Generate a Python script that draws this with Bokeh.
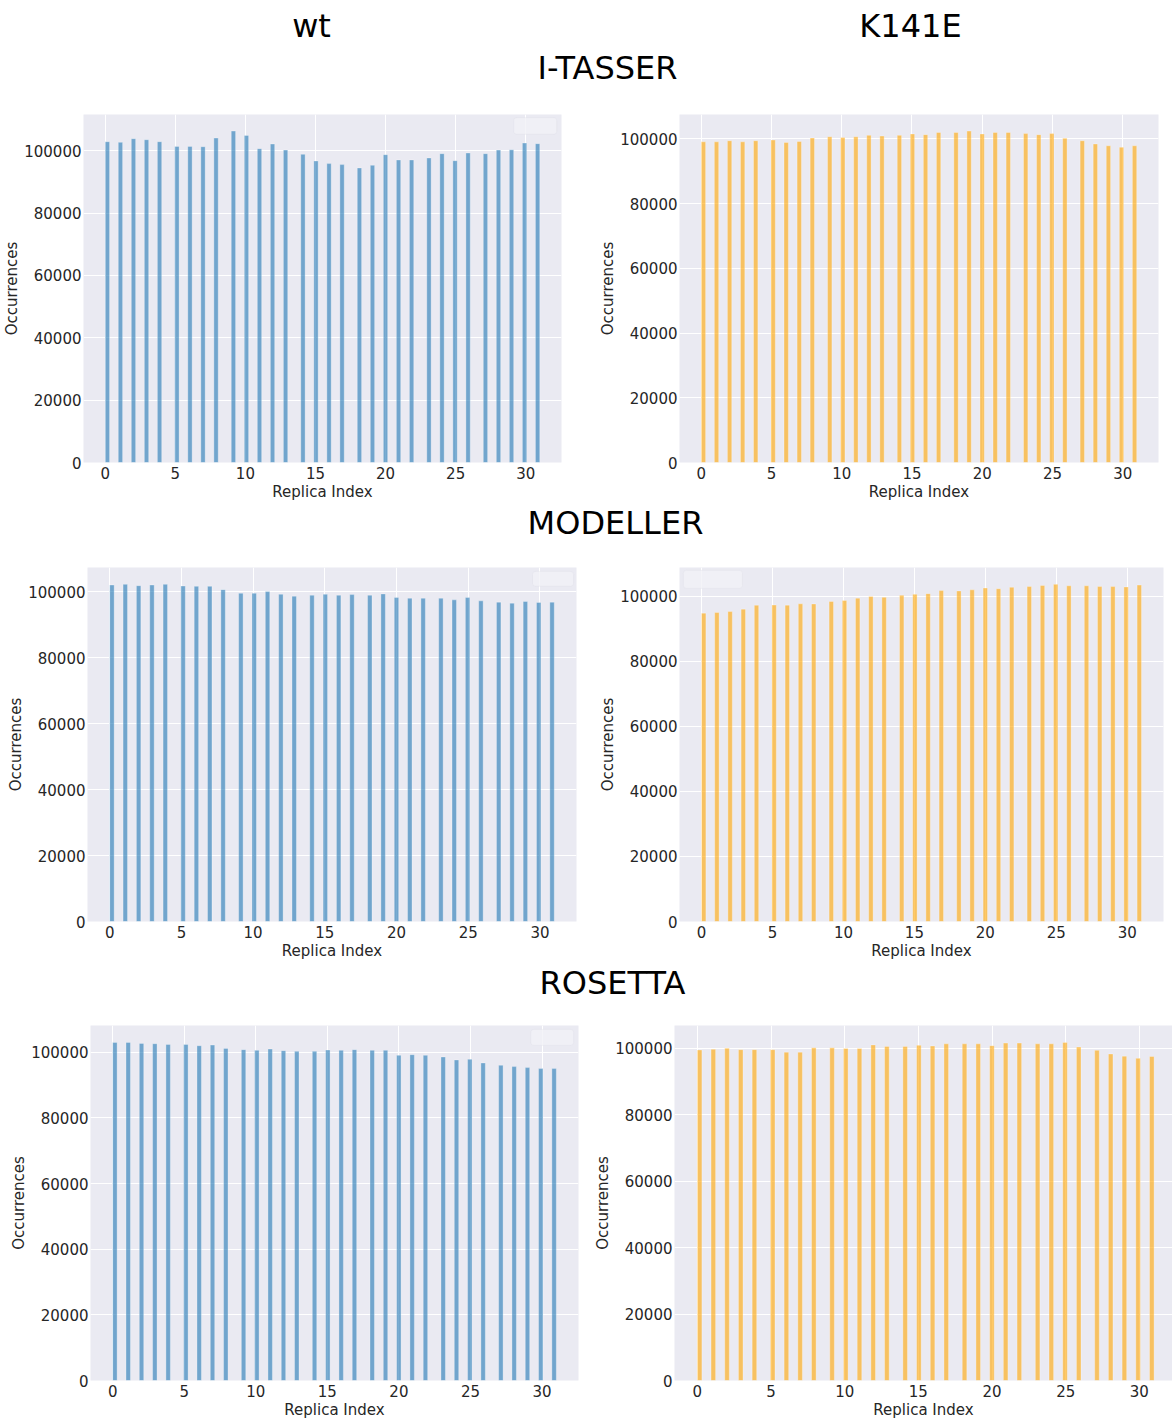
import numpy as np
from bokeh.plotting import figure
from bokeh.layouts import column, row
from bokeh.models import Range1d, FixedTicker, BoxAnnotation, BasicTickFormatter
from bokeh.core.properties import value
from bokeh.embed import file_html
from bokeh.resources import INLINE

# Replica indices and the number of occurrences recorded for each one
replica_idx = np.arange(32)

wt_itasser = [102880, 102670, 103840, 103520, 102880, 101380, 101380, 101270,
              104050, 106290, 104900, 100640, 102130, 100220, 98830, 96700,
              95850, 95530, 94460, 95310, 98720, 97020, 97020, 97660,
              99040, 96800, 99260, 99040, 100220, 100330, 102450, 102240]

k141e_itasser = [99110, 99110, 99450, 99110, 99450, 99670, 98890, 99220,
                 100330, 100670, 100440, 100670, 101110, 100890, 101110, 101550,
                 101330, 102000, 102000, 102440, 101550, 102000, 102000, 101660,
                 101330, 101660, 100220, 99450, 98450, 97890, 97450, 97890]

wt_modeller = [102000, 102200, 101800, 102000, 102200, 101700, 101600, 101600,
               100600, 99500, 99500, 100000, 99200, 98600, 98900, 99200,
               98900, 99100, 98900, 99300, 98200, 98000, 98000, 98000,
               97500, 98200, 97200, 96800, 96500, 97000, 96700, 96800]

k141e_modeller = [94860, 95040, 95340, 96090, 97280, 97350, 97310, 97720,
                  97680, 98430, 98730, 99470, 100000, 99730, 100360, 100660,
                  100850, 101800, 101690, 102020, 102580, 102360, 102810, 103030,
                  103370, 103710, 103260, 103260, 103030, 103030, 102920, 103480]

wt_rosetta = [103030, 103030, 102730, 102630, 102420, 102420, 102020, 102220,
              101210, 100810, 100610, 101010, 100510, 100300, 100300, 100710,
              100610, 100810, 100610, 100610, 99090, 99290, 99090, 98590,
              97680, 97880, 96770, 96060, 95660, 95350, 95050, 95050]

k141e_rosetta = [99460, 99670, 100000, 99560, 99560, 99560, 98800, 98800,
                 100110, 100110, 99890, 99890, 100980, 100540, 100540, 100870,
                 100650, 101310, 101310, 101310, 100760, 101530, 101530, 101310,
                 101310, 101740, 100330, 99350, 98260, 97600, 96950, 97490]

x_ticks = [0, 5, 10, 15, 20, 25, 30]
y_ticks = [0, 20000, 40000, 60000, 80000, 100000]
column_titles = ["wt", "K141E"]
row_titles = ["I-TASSER", "MODELLER", "ROSETTA"]

N_BINS = 100
FONT = "DejaVu Sans"
TEXT = "#262626"
BG = "#EAEAF2"
WT_COLOR = "#1f77b4"
MUT_COLOR = "#FFA500"


def hist_panel(counts, color, width, height, left, right, top, bottom,
               x_end=None, legend=None):
    hist, edges = np.histogram(replica_idx, bins=N_BINS,
                               range=(replica_idx.min(), replica_idx.max()),
                               weights=counts)
    keep = hist > 0
    span = edges[-1] - edges[0]
    x0 = edges[0] - 0.05 * span
    x1 = edges[-1] + 0.05 * span if x_end is None else x_end
    y1 = 1.05 * hist.max()

    p = figure(width=width, height=height,
               min_border_left=left, min_border_right=right,
               min_border_top=top, min_border_bottom=bottom,
               x_range=Range1d(x0, x1), y_range=Range1d(0, y1),
               output_backend="svg", toolbar_location=None,
               background_fill_color=BG, border_fill_color="white",
               outline_line_color=None)

    p.quad(left=edges[:-1][keep], right=edges[1:][keep],
           bottom=0, top=hist[keep],
           fill_color=color, fill_alpha=0.6,
           line_color="white", line_alpha=0.5, line_width=0.6)

    if legend is not None:
        fx0, fx1, fy0, fy1 = legend
        p.add_layout(BoxAnnotation(
            left=x0 + fx0 * (x1 - x0), right=x0 + fx1 * (x1 - x0),
            top=y1 * (1 - fy0), bottom=y1 * (1 - fy1),
            fill_color="#F1F1F6", fill_alpha=0.8,
            line_color="#DCDCE4", line_width=1, border_radius=3))

    p.xaxis.ticker = FixedTicker(ticks=x_ticks)
    p.yaxis.ticker = FixedTicker(ticks=y_ticks)
    p.yaxis.formatter = BasicTickFormatter(use_scientific=False)
    p.xaxis.axis_label = "Replica Index"
    p.yaxis.axis_label = "Occurrences"

    for ax in (p.xaxis[0], p.yaxis[0]):
        ax.axis_line_color = None
        ax.major_tick_line_color = None
        ax.minor_tick_line_color = None
        ax.major_tick_out = 0
        ax.major_tick_in = 0
        ax.major_label_text_font = FONT
        ax.major_label_text_font_size = "15px"
        ax.major_label_text_color = TEXT
        ax.axis_label_text_font = FONT
        ax.axis_label_text_font_size = "15px"
        ax.axis_label_text_font_style = "normal"
        ax.axis_label_text_color = TEXT
    p.xaxis.major_label_standoff = 4
    p.xaxis.axis_label_standoff = 1
    p.yaxis.major_label_standoff = 2
    p.yaxis.axis_label_standoff = 0

    p.xgrid.ticker = FixedTicker(ticks=x_ticks)
    p.ygrid.ticker = FixedTicker(ticks=y_ticks)
    p.grid.grid_line_color = "white"
    p.grid.grid_line_width = 1
    return p


def header(height, xs, ys, texts):
    h = figure(width=1172, height=height, x_range=Range1d(0, 1172),
               y_range=Range1d(height, 0), output_backend="svg",
               toolbar_location=None, min_border=0,
               x_axis_location=None, y_axis_location=None,
               outline_line_color=None, background_fill_color="white",
               border_fill_color="white")
    h.grid.visible = False
    h.text(x=xs, y=ys, text=texts, text_align="center",
           text_baseline="middle", text_font=value(FONT),
           text_font_size="32px", text_color="black")
    return h


head1 = header(100, [311, 910, 607], [25, 25, 67],
               [column_titles[0], column_titles[1], row_titles[0]])
head2 = header(42, [615], [19], [row_titles[1]])
head3 = header(42, [612], [19], [row_titles[2]])

# row 1: 100 -> 503
p1 = hist_panel(wt_itasser, WT_COLOR, 596, 403, 83, 35, 14, 40,
                legend=(0.900, 0.990, 0.009, 0.057))
p2 = hist_panel(k141e_itasser, MUT_COLOR, 576, 403, 82, 14, 9, 40)
# row 2: 545 -> 963
p3 = hist_panel(wt_modeller, WT_COLOR, 596, 418, 87, 20, 19, 42,
                legend=(0.910, 0.994, 0.011, 0.053))
p4 = hist_panel(k141e_modeller, MUT_COLOR, 576, 418, 83, 9, 22, 42,
                legend=(0.008, 0.130, 0.008, 0.059))
# row 3: 1005 -> 1425
p5 = hist_panel(wt_rosetta, WT_COLOR, 588, 420, 90, 10, 20, 45,
                legend=(0.902, 0.990, 0.011, 0.056))
p6 = hist_panel(k141e_rosetta, MUT_COLOR, 584, 420, 86, 0, 18, 42,
                x_end=32.25)

layout = column(head1, row(p1, p2, spacing=0), head2,
                row(p3, p4, spacing=0), head3,
                row(p5, p6, spacing=0), spacing=0)

with open("out.html", "w") as f:
    f.write(file_html(layout, INLINE))
